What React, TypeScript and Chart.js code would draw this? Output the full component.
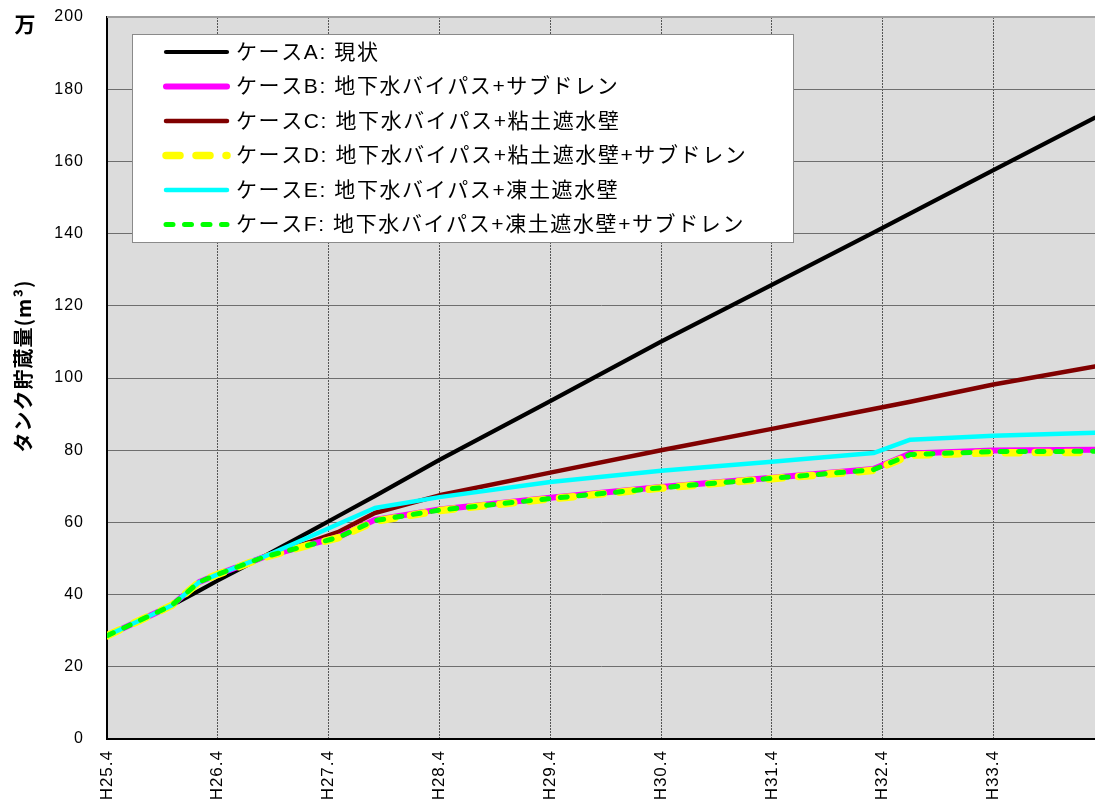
import React, { useEffect, useRef } from "react";
import { Chart, registerables } from "chart.js";

Chart.register(...registerables);

// x positions are months counted from H25.4
const tickLabels = ["H25.4", "H26.4", "H27.4", "H28.4", "H29.4", "H30.4", "H31.4", "H32.4", "H33.4"];
const tickMonths = [0, 12, 24, 36, 48, 60, 72, 84, 96];
const lastMonth = 107;

const months = [0, 7, 10, 12, 17, 22, 25, 29, 36, 48, 60, 72, 83, 87, 96, 107];

const caseA = [28.6, 37.0, 41.1, 43.9, 50.6, 57.5, 61.7, 67.3, 77.3, 93.6, 110.1, 125.8, 140.3, 145.6, 157.6, 172.1];
const caseB = [28.6, 37.0, 43.5, 45.6, 50.4, 53.9, 55.9, 60.7, 63.6, 66.8, 69.8, 72.4, 74.8, 79.1, 79.9, 80.1];
const caseC = [28.6, 37.0, 43.5, 45.6, 50.5, 54.6, 57.3, 62.6, 67.5, 73.8, 80.0, 85.9, 91.4, 93.4, 98.2, 103.2];
const caseD = [28.6, 37.0, 43.5, 45.6, 50.3, 53.8, 55.7, 60.3, 63.3, 66.5, 69.5, 72.1, 74.4, 78.6, 79.3, 79.4];
const caseE = [28.6, 37.0, 43.5, 45.6, 50.5, 56.1, 59.5, 64.0, 67.0, 71.2, 74.3, 76.8, 79.2, 82.9, 84.0, 84.8];
const caseF = [28.6, 37.0, 43.5, 45.6, 50.4, 53.8, 55.8, 60.5, 63.4, 66.6, 69.6, 72.2, 74.6, 78.8, 79.6, 79.7];

const seriesLabels = [
  "ケースA: 現状",
  "ケースB: 地下水バイパス+サブドレン",
  "ケースC: 地下水バイパス+粘土遮水壁",
  "ケースD: 地下水バイパス+粘土遮水壁+サブドレン",
  "ケースE: 地下水バイパス+凍土遮水壁",
  "ケースF: 地下水バイパス+凍土遮水壁+サブドレン",
];

const yTitle = "タンク貯蔵量(m³)";
const unitMark = "万";

const FONT = "'Liberation Sans', Arial, 'Noto Sans CJK JP', sans-serif";
const CJK = "'Liberation Sans', 'Noto Sans CJK JP', sans-serif";

export default function App() {
  const ref = useRef<HTMLCanvasElement | null>(null);

  useEffect(() => {
    document.body.style.margin = "0";
    const canvas = ref.current;
    if (!canvas) return;
    const ctx = canvas.getContext("2d");
    if (!ctx) return;

    const pts = (vals: number[]) => months.map((m, i) => ({ x: m, y: vals[i] }));

    const styles = [
      { color: "#000000", width: 4.2, dash: [] as number[], order: 6 },
      { color: "#ff00ff", width: 6, dash: [] as number[], order: 4 },
      { color: "#800000", width: 4.5, dash: [] as number[], order: 5 },
      { color: "#ffff00", width: 7.5, dash: [14, 16], order: 3 },
      { color: "#00ffff", width: 4.5, dash: [] as number[], order: 2 },
      { color: "#00ff00", width: 5, dash: [7, 11.5], order: 1 },
    ];
    const values = [caseA, caseB, caseC, caseD, caseE, caseF];

    const spacing = {
      id: "spacing",
      beforeLayout(chart: any) {
        chart.ctx.letterSpacing = "1px";
      },
      beforeDraw(chart: any) {
        chart.ctx.letterSpacing = "1px";
      },
    };

    const background = {
      id: "background",
      beforeDraw(chart: any) {
        const { ctx: c, chartArea: a } = chart;
        c.save();
        c.fillStyle = "#dcdcdc";
        c.fillRect(a.left, a.top, a.right - a.left, a.bottom - a.top);
        c.restore();
      },
    };

    const overlay = {
      id: "overlay",
      afterDraw(chart: any) {
        const { ctx: c, chartArea: a } = chart;
        c.save();
        // top frame line
        c.strokeStyle = "#a0a0a0";
        c.lineWidth = 2;
        c.beginPath();
        c.moveTo(a.left, a.top);
        c.lineTo(a.right, a.top);
        c.stroke();

        // unit mark
        c.letterSpacing = "0px";
        c.fillStyle = "#000";
        c.font = "bold 21px 'Noto Sans CJK JP', sans-serif";
        c.textAlign = "center";
        c.textBaseline = "middle";
        c.fillText(unitMark, 25, 24);

        // y axis title
        c.save();
        c.translate(23, 366);
        c.rotate(-Math.PI / 2);
        c.letterSpacing = "1px";
        c.font = "bold 20px 'Noto Sans CJK JP', sans-serif";
        c.fillText(yTitle, 0, 0);
        c.restore();

        // legend
        const bx = a.left + 25;
        const by = a.top + 17;
        const bw = 661;
        const bh = 208;
        c.fillStyle = "#ffffff";
        c.fillRect(bx, by, bw, bh);
        c.strokeStyle = "#8a8a8a";
        c.lineWidth = 1;
        c.strokeRect(bx + 0.5, by + 0.5, bw, bh);
        c.font = `21px ${CJK}`;
        c.letterSpacing = "1.6px";
        c.textAlign = "left";
        c.textBaseline = "middle";
        chart.data.datasets.forEach((ds: any, i: number) => {
          const y = by + 18 + i * 34.5;
          c.save();
          c.strokeStyle = ds.borderColor;
          c.lineWidth = ds.borderWidth;
          c.lineCap = "round";
          c.setLineDash(ds.borderDash || []);
          c.beginPath();
          c.moveTo(bx + 34, y);
          c.lineTo(bx + 95, y);
          c.stroke();
          c.restore();
          c.fillStyle = "#000";
          c.fillText(ds.label, bx + 104, y + 1);
        });
        c.restore();
      },
    };

    const chart = new Chart(ctx, {
      type: "line",
      data: {
        datasets: values.map((v, i) => ({
          label: seriesLabels[i],
          data: pts(v),
          borderColor: styles[i].color,
          backgroundColor: styles[i].color,
          borderWidth: styles[i].width,
          borderDash: styles[i].dash,
          borderCapStyle: "round",
          borderJoinStyle: "round",
          pointRadius: 0,
          fill: false,
          tension: 0,
          order: styles[i].order,
        })),
      },
      options: {
        responsive: false,
        animation: false,
        layout: { padding: { top: 17, left: 0, right: 0, bottom: 0 } },
        plugins: {
          legend: { display: false },
          tooltip: { enabled: false },
        },
        scales: {
          x: {
            type: "linear",
            min: 0,
            max: lastMonth,
            afterBuildTicks: (s: any) => {
              s.ticks = tickMonths.map((v) => ({ value: v }));
            },
            afterFit: (s: any) => {
              s.height = 66;
              s.paddingLeft = 0;
              s.paddingRight = 0;
            },
            ticks: {
              autoSkip: false,
              maxRotation: 90,
              minRotation: 90,
              padding: 11,
              color: "#000",
              font: { family: FONT, size: 17 },
              callback: (v: any) => {
                const k = tickMonths.indexOf(Number(v));
                return k >= 0 ? tickLabels[k] : "";
              },
            },
            grid: { color: "#555555", lineWidth: 1, drawTicks: false },
            border: { color: "#000", width: 2, dash: [2, 1] },
          },
          y: {
            min: 0,
            max: 200,
            afterFit: (s: any) => {
              s.width = 107;
              s.paddingTop = 0;
              s.paddingBottom = 0;
            },
            ticks: {
              stepSize: 20,
              padding: 23,
              color: "#000",
              font: { family: FONT, size: 16 },
            },
            grid: { color: "#6e6e6e", lineWidth: 1, drawTicks: false },
            border: { color: "#000", width: 2 },
            title: { display: false },
          },
        },
      } as any,
      plugins: [spacing, background, overlay],
    });

    return () => chart.destroy();
  }, []);

  return (
    <div style={{ width: 1095, height: 805 }}>
      <canvas ref={ref} width={1095} height={805} style={{ display: "block" }} />
    </div>
  );
}
